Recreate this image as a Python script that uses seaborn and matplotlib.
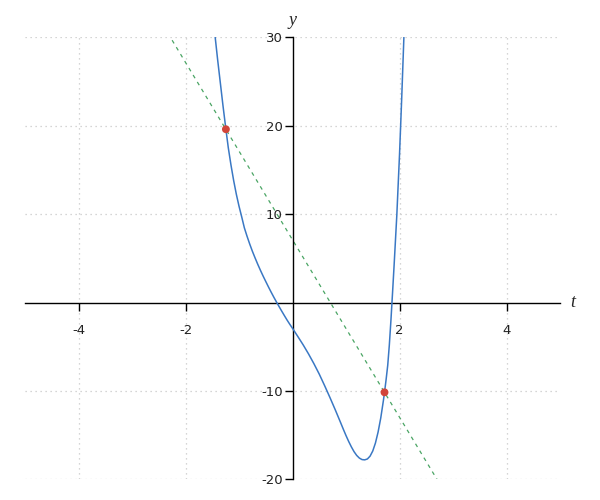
import pandas as pd
import matplotlib
matplotlib.use("Agg")
import matplotlib.pyplot as plt
import seaborn as sns

# -------------------------------
# Data
# -------------------------------
curve_t = [-1.445, -1.40, -1.35, -1.30, -1.245, -1.20, -1.15, -1.10, -1.05, -1.00,
           -0.95, -0.90, -0.85, -0.80, -0.75, -0.70, -0.65, -0.60, -0.55, -0.50,
           -0.45, -0.40, -0.35, -0.30, -0.25, -0.20, -0.15, -0.10, -0.05, 0.0,
           0.1, 0.2, 0.3, 0.4, 0.5, 0.6, 0.7, 0.8, 0.9, 0.953,
           1.0, 1.05, 1.10, 1.15, 1.20, 1.25, 1.30, 1.35, 1.40, 1.45,
           1.50, 1.55, 1.60, 1.65, 1.70, 1.72, 1.75, 1.78, 1.81, 1.84,
           1.87, 1.90, 1.95, 2.00, 2.04, 2.082]
curve_y = [30.0, 27.5, 24.9, 22.3, 19.6, 17.5, 15.55, 13.8, 12.25, 10.9,
           9.7, 8.45, 7.5, 6.62, 5.8, 5.05, 4.33, 3.65, 3.0, 2.38,
           1.77, 1.18, 0.61, 0.06, -0.47, -0.99, -1.5, -2.0, -2.47, -2.92,
           -3.85, -4.8, -5.82, -6.92, -8.1, -9.4, -10.75, -12.15, -13.6, -14.38,
           -15.05, -15.72, -16.33, -16.87, -17.3, -17.6, -17.77, -17.8, -17.7, -17.38,
           -16.8, -15.9, -14.65, -13.05, -11.05, -10.16, -8.7, -7.1, -4.8, -2.0,
           1.1, 4.3, 9.9, 16.7, 22.9, 30.0]

secant_t = [-2.25, 2.70]
secant_y = [29.67, -20.0]

point_t = [-1.245, 1.72]
point_y = [19.6, -10.16]

x_ticks = [-4, -2, 2, 4]
y_ticks = [-20, -10, 10, 20, 30]

curve = pd.DataFrame({"t": curve_t, "y": curve_y})
secant = pd.DataFrame({"t": secant_t, "y": secant_y})
points = pd.DataFrame({"t": point_t, "y": point_y})

sns.set_theme(style="white")
plt.rcParams['font.family'] = ['DejaVu Sans']

fig = plt.figure(figsize=(6, 5), dpi=100)
ax = fig.add_axes([25 / 600, 1 - 479.3 / 500, 535 / 600, 442 / 500])

# dotted grid behind everything
ax.grid(True, linestyle=(0, (1, 3)), color="#c8c8c8", linewidth=0.9)
ax.set_axisbelow(True)

sns.lineplot(data=secant, x="t", y="y", ax=ax, color="#4aa564",
             linewidth=0.9, linestyle=(0, (3, 3.5)), zorder=2)
sns.lineplot(data=curve, x="t", y="y", ax=ax, color="#3a78c4",
             linewidth=1.1, sort=False, zorder=3)
sns.scatterplot(data=points, x="t", y="y", ax=ax, color="#d2453a",
                s=32, edgecolor="none", zorder=4)

ax.set_xlim(-5, 5)
ax.set_ylim(-20, 30)
ax.set_xticks(x_ticks)
ax.set_yticks(y_ticks)
ax.set_xticklabels([str(v) for v in x_ticks])
ax.set_yticklabels([str(v) for v in y_ticks])

# axes through the origin
ax.spines["left"].set_position(("data", 0))
ax.spines["bottom"].set_position(("data", 0))
ax.spines["top"].set_visible(False)
ax.spines["right"].set_visible(False)
for side in ["left", "bottom"]:
    ax.spines[side].set_color("black")
    ax.spines[side].set_linewidth(1.0)

ax.tick_params(axis="x", bottom=True, direction="out", length=5.5, width=1,
               color="black", pad=10, labelsize=9.5, labelcolor="#222222")
ax.tick_params(axis="y", left=True, direction="out", length=5.5, width=1,
               color="black", pad=1.7, labelsize=9.5, labelcolor="#222222")

ax.set_xlabel("")
ax.set_ylabel("")
ax.text(5.2, 0, "t", fontsize=13, family="Liberation Serif", style="italic",
        ha="left", va="center")
ax.text(0, 30.9, "y", fontsize=13, family="Liberation Serif", style="italic",
        ha="center", va="bottom")

fig.savefig("out.png", dpi=100)
